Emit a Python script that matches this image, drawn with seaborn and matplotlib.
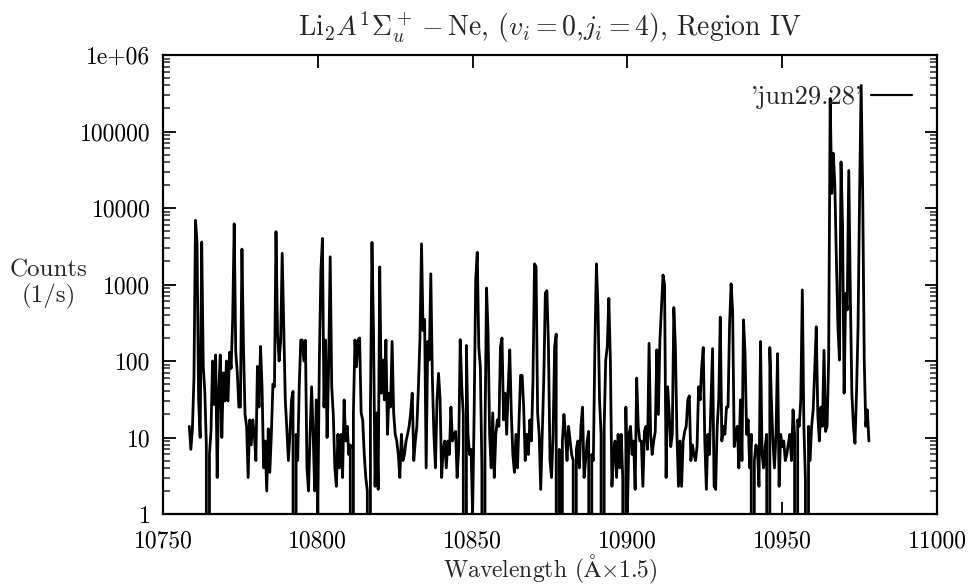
import numpy as np
import pandas as pd
import matplotlib
matplotlib.use("Agg")
import matplotlib.pyplot as plt
import seaborn as sns
from matplotlib.ticker import FixedLocator, LogLocator, NullFormatter, FixedFormatter

# ---- data (0.5 step in wavelength) ----
wl_start, wl_stop, wl_step = 10758.5, 10978.0, 0.5

counts_a = [14, 7, 13, 60, 6900, 3500, 31, 10, 3600, 85,
            40, 8, 0, 6, 12, 100, 27, 120, 3, 40,
            120, 10, 70, 30, 100, 30, 130, 80, 345, 6200,
            130, 70, 25, 25, 2900, 150, 20, 14, 3, 17,
            8, 17, 11, 5, 85, 25, 155, 45, 4, 9,
            2, 13, 3.5, 11, 50, 46, 4900, 230, 100, 180,
            2560, 300, 31, 13, 5, 11, 31, 40, 0, 11,
            5, 46, 188, 188, 100]
counts_b = [187, 4, 2, 11, 46, 11, 2, 31, 1, 100,
            1500, 4000, 25, 188, 10, 84, 2300, 46, 20, 4,
            2.3, 11, 4, 11, 3, 31, 9, 14, 6, 8,
            0, 21, 188, 84, 188, 200, 21, 17, 6, 3,
            2, 0, 25, 3550, 230, 2.3, 21, 2.1, 1700, 38,
            103, 31, 188, 11, 38, 25, 180, 21, 11, 9,
            6, 3, 11, 5, 6, 9, 11, 14, 21, 38,
            5, 9, 14, 46, 200, 3400, 250]
counts_c = [350, 4, 180, 103, 1380, 60, 11, 4, 31, 69,
            31, 3, 7, 9, 4, 9, 6, 25, 9, 11,
            12, 3, 7, 190, 46, 20, 0, 160, 11, 6,
            7, 1, 21, 1150, 2630, 150, 84, 4, 0, 11,
            900, 230, 11, 4, 21, 3, 11, 17, 14, 154,
            200, 17, 38, 11, 46, 140, 21, 6, 3.5, 11,
            4, 17, 65, 65, 25, 5, 11, 6, 17, 9,
            56, 1860, 1700, 21, 11, 2.1, 11]
counts_d = [60, 780, 830, 160, 5, 3, 11, 154, 225, 0,
            7, 0, 9, 20, 11, 5, 14, 9, 6, 5,
            0, 7, 9, 4, 14, 25, 3, 5, 9, 12,
            0, 6, 5, 154, 1860, 510, 31, 11, 0, 14,
            103, 154, 660, 103, 2.3, 6, 9, 3, 11, 4,
            11, 3, 0, 25, 1, 11, 14, 6, 9, 2.1,
            60, 14, 9, 9, 2.3, 12, 14, 7, 170, 11,
            6, 9, 12, 140, 20, 188, 500, 1330]
counts_e = [1000, 3, 46, 21, 7.6, 11, 500, 154, 11, 2.3,
            9, 2.3, 9, 12, 14, 31, 35, 5, 8, 6,
            5, 7.6, 46, 31, 84, 150, 9, 2.1, 11, 6,
            31, 145, 2.3, 2.1, 14, 31, 375, 9, 14, 11,
            25, 25, 300, 1020, 440, 7.6, 11, 14, 4, 31,
            5, 345, 126, 11, 17, 4, 11, 0, 5, 8,
            7, 2.3, 180, 6, 4, 7.6, 11, 0, 150, 31,
            9, 4, 11, 125, 2.3, 11]
counts_f = [7.6, 9, 5, 6, 8.4, 11, 5, 23, 11, 0,
            17, 14, 31, 850, 14, 2.8, 0, 14, 5, 14,
            23, 76, 280, 20, 9, 25, 14, 138, 12, 14,
            103, 270000, 15500, 52000, 20000, 2100, 280, 103, 40000, 5700,
            38, 765, 465, 31000, 765, 38, 14, 8.4, 38, 280,
            15500, 400000, 15500, 103, 14, 23, 9]

x_ticks = [10750, 10800, 10850, 10900, 10950, 11000]
y_ticks = [1, 10, 100, 1000, 10000, 100000, 1000000]
y_tick_labels = ["1", "10", "100", "1000", "10000", "100000", "1e+06"]
series_label = "'jun29.28'"

counts = np.concatenate([counts_a, counts_b, counts_c, counts_d, counts_e, counts_f])
wavelength = np.arange(wl_start, wl_stop + wl_step / 10, wl_step)
df = pd.DataFrame({"wavelength": wavelength, "counts": counts})

# ---- style ----
sns.set_theme(style="ticks")
plt.rcParams["font.family"] = ["cmr10", "DejaVu Serif"]
plt.rcParams["mathtext.fontset"] = "cm"
plt.rcParams["axes.unicode_minus"] = False
plt.rcParams["axes.formatter.use_mathtext"] = True

fig = plt.figure(figsize=(9.76, 5.84), dpi=100)
ax = fig.add_axes([163 / 976, 1 - 514 / 584, (937 - 163) / 976, (514 - 55) / 584])

sns.lineplot(data=df, x="wavelength", y="counts", ax=ax, color="black",
             linewidth=2.0, estimator=None, sort=False, label=series_label)

ax.set_yscale("log")
ax.set_xlim(10750, 11000)
ax.set_ylim(1, 1e6)

ax.xaxis.set_major_locator(FixedLocator(x_ticks))
ax.set_xticklabels([str(t) for t in x_ticks])
ax.yaxis.set_major_locator(FixedLocator(y_ticks))
ax.yaxis.set_major_formatter(FixedFormatter(y_tick_labels))
ax.yaxis.set_minor_locator(LogLocator(base=10, subs=np.arange(2, 10), numticks=20))
ax.yaxis.set_minor_formatter(NullFormatter())

ax.tick_params(axis="both", which="major", direction="in", length=9, width=1.3,
               top=True, right=True, labelsize=17, colors="black")
ax.tick_params(axis="x", which="major", pad=12)
ax.tick_params(axis="y", which="major", pad=9)
ax.tick_params(axis="y", which="minor", direction="in", length=5, width=1.1,
               left=True, right=True)
for s in ax.spines.values():
    s.set_linewidth(1.6)
    s.set_color("black")

ax.set_xlabel("")
ax.set_ylabel("")
fig.text(550 / 976, 1 - 569 / 584, r"Wavelength ($\mathrm{\AA}{\times}1.5$)",
         fontsize=17, ha="center", va="center")
fig.text(49 / 976, 1 - 284 / 584, "Counts\n(1/s)", ha="center", va="center",
         fontsize=18, multialignment="center", linespacing=1.1)
fig.text(550 / 976, 1 - 27 / 584,
         r"$\mathrm{Li}_2A^1\Sigma_u^+ - \mathrm{Ne}$, $(v_i = 0$,$j_i = 4)$, Region IV",
         fontsize=20, ha="center", va="center")

leg = ax.legend(loc="center right", bbox_to_anchor=((912 - 163) / 774, 1 - (97 - 55) / 459),
                frameon=False, markerfirst=False, fontsize=19, handlelength=1.55,
                handletextpad=0.3, borderaxespad=0, borderpad=0)
for h in leg.get_lines():
    h.set_linewidth(1.6)

fig.savefig("out.png", dpi=100)
